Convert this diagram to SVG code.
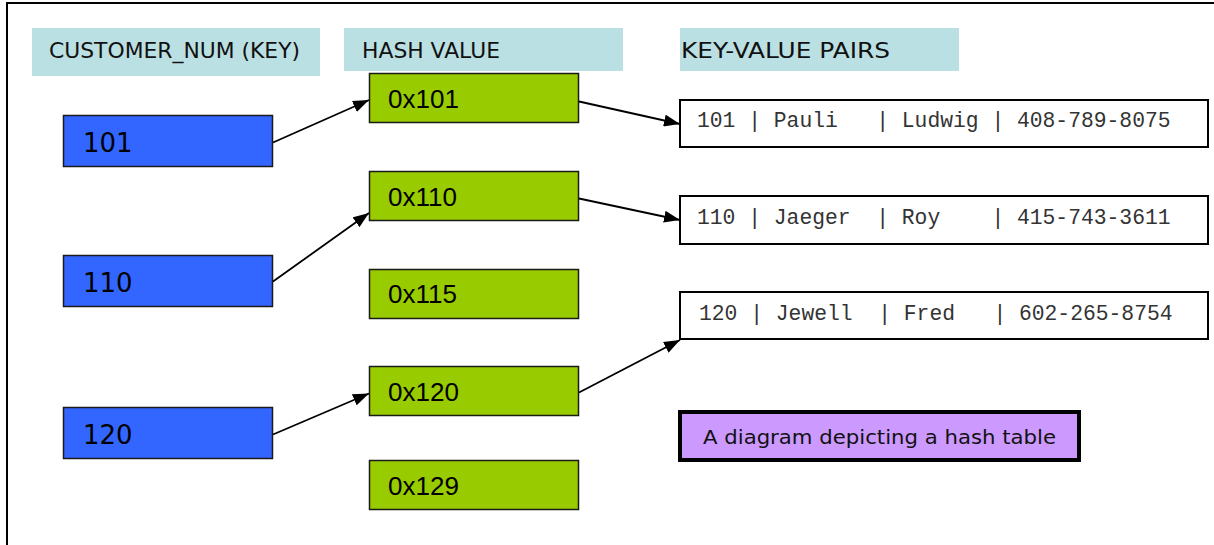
<svg xmlns="http://www.w3.org/2000/svg" width="1214" height="545" viewBox="0 0 1214 545">
  <style>
    .frame { fill: #ffffff; stroke: #000000; stroke-width: 2; }
    .head { fill: #bbe0e3; stroke: none; }
    .head-t { font-family: "DejaVu Sans", Verdana, sans-serif; font-size: 21px; fill: #111111; }
    .key { fill: #3366ff; stroke: #1a1a1a; stroke-width: 1.5; }
    .key-t { font-family: "DejaVu Sans", Verdana, sans-serif; font-size: 26px; fill: #000000; }
    .hash { fill: #99cc00; stroke: #1a1a1a; stroke-width: 1.5; }
    .hash-t { font-family: "Liberation Sans", Arial, sans-serif; font-size: 26px; fill: #000000; }
    .rec { fill: #ffffff; stroke: #000000; stroke-width: 2; }
    .rec-t { font-family: "Liberation Mono", "Courier New", monospace; font-size: 21.33px; fill: #333333; white-space: pre; }
    .note { fill: #cc99ff; stroke: #000000; stroke-width: 4; }
    .note-t { font-family: "DejaVu Sans", Verdana, sans-serif; font-size: 20px; fill: #111111; }
    .link { fill: none; stroke: #000000; stroke-width: 1.8; marker-end: url(#head); }
  </style>
  <defs>
    <marker id="head" viewBox="0 0 16 12" refX="16" refY="6" markerWidth="16" markerHeight="12" markerUnits="userSpaceOnUse" orient="auto">
      <path d="M0,0 L16,6 L0,12 Z" fill="#000000"/>
    </marker>
  </defs>

  <!-- outer frame, open to the right and bottom -->
  <rect class="frame" x="7" y="3" width="1230" height="570"/>

  <!-- column headings -->
  <g id="head-key">
    <rect class="head" x="32" y="28" width="288" height="48"/>
    <text class="head-t" x="49" y="58" textLength="251" lengthAdjust="spacingAndGlyphs">CUSTOMER_NUM (KEY)</text>
  </g>
  <g id="head-hash">
    <rect class="head" x="344" y="28" width="279" height="43"/>
    <text class="head-t" x="362" y="58" textLength="138" lengthAdjust="spacingAndGlyphs">HASH VALUE</text>
  </g>
  <g id="head-pairs">
    <rect class="head" x="680" y="28" width="279" height="43"/>
    <text class="head-t" x="681" y="58" textLength="209" lengthAdjust="spacingAndGlyphs">KEY-VALUE PAIRS</text>
  </g>

  <!-- keys -->
  <g id="key-101">
    <rect class="key" x="63.5" y="115.5" width="209" height="51"/>
    <text class="key-t" x="83" y="152">101</text>
  </g>
  <g id="key-110">
    <rect class="key" x="63.5" y="255.5" width="209" height="51"/>
    <text class="key-t" x="83" y="292">110</text>
  </g>
  <g id="key-120">
    <rect class="key" x="63.5" y="407.5" width="209" height="51"/>
    <text class="key-t" x="83" y="444">120</text>
  </g>

  <!-- hash buckets -->
  <g id="hash-0x101">
    <rect class="hash" x="369.5" y="73.5" width="209" height="49"/>
    <text class="hash-t" x="388" y="108">0x101</text>
  </g>
  <g id="hash-0x110">
    <rect class="hash" x="369.5" y="171.5" width="209" height="49"/>
    <text class="hash-t" x="388" y="206">0x110</text>
  </g>
  <g id="hash-0x115">
    <rect class="hash" x="369.5" y="269.5" width="209" height="49"/>
    <text class="hash-t" x="388" y="303">0x115</text>
  </g>
  <g id="hash-0x120">
    <rect class="hash" x="369.5" y="366.5" width="209" height="49"/>
    <text class="hash-t" x="388" y="401">0x120</text>
  </g>
  <g id="hash-0x129">
    <rect class="hash" x="369.5" y="460.5" width="209" height="49"/>
    <text class="hash-t" x="388" y="495">0x129</text>
  </g>

  <!-- stored records -->
  <g id="pair-101">
    <rect class="rec" x="680" y="100" width="528" height="47"/>
    <text class="rec-t" x="697" y="127" xml:space="preserve">101 | Pauli   | Ludwig | 408-789-8075</text>
  </g>
  <g id="pair-110">
    <rect class="rec" x="680" y="196" width="528" height="48"/>
    <text class="rec-t" x="697" y="224" xml:space="preserve">110 | Jaeger  | Roy    | 415-743-3611</text>
  </g>
  <g id="pair-120">
    <rect class="rec" x="680" y="292" width="528" height="47"/>
    <text class="rec-t" x="699" y="320" xml:space="preserve">120 | Jewell  | Fred   | 602-265-8754</text>
  </g>

  <!-- caption -->
  <g id="caption">
    <rect class="note" x="680" y="412" width="399" height="48"/>
    <text class="note-t" x="703" y="444" textLength="353" lengthAdjust="spacingAndGlyphs">A diagram depicting a hash table</text>
  </g>

  <!-- connectors -->
  <g id="connectors">
    <line class="link" x1="273" y1="142.5" x2="369" y2="100"/>
    <line class="link" x1="273" y1="281.5" x2="369" y2="213"/>
    <line class="link" x1="273" y1="434.5" x2="369" y2="393.5"/>
    <line class="link" x1="579" y1="101.5" x2="680" y2="124"/>
    <line class="link" x1="579" y1="198.5" x2="680" y2="220"/>
    <line class="link" x1="579" y1="392.5" x2="680" y2="340"/>
  </g>
</svg>
